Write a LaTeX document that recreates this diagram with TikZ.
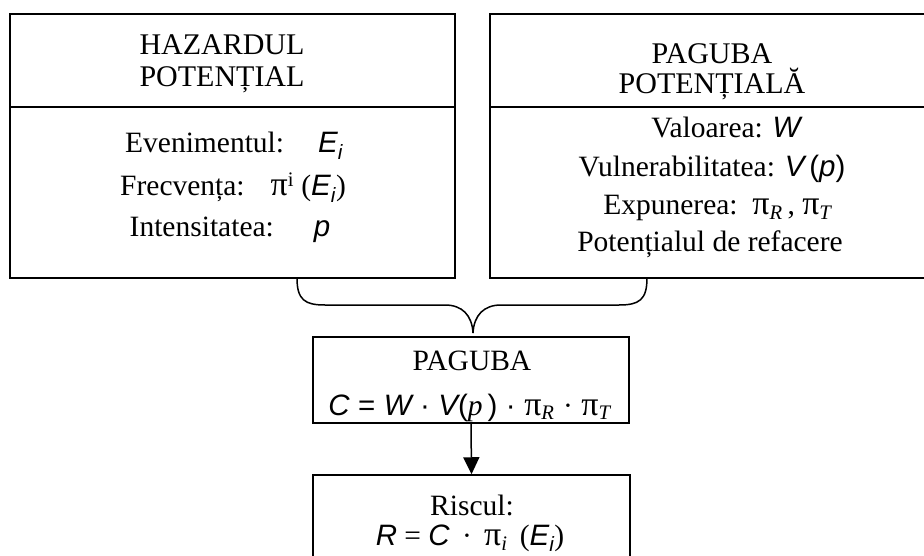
\documentclass[tikz,border=0pt]{standalone}
\usepackage{fontspec}
\usepackage{graphicx}
\setmainfont{Liberation Serif}
\newfontfamily\sansf{Liberation Sans}
\usetikzlibrary{arrows.meta}
\newcommand\sv[1]{{\sansf\itshape #1}}
\newcommand\sbs[1]{\textsubscript{#1}}
\newcommand\bigpi{\scalebox{1.15}{π}}
\newcommand\tsp{\hspace{8.5pt}}
\begin{document}
\begin{tikzpicture}[x=1pt,y=-1pt,
  box/.style={draw, line width=1.5pt, inner sep=0pt},
  hd/.style={anchor=base, inner sep=0pt, font=\fontsize{30}{36}\selectfont},
  bd/.style={anchor=base, inner sep=0pt, font=\fontsize{29.5}{34}\selectfont},
  con/.style={line width=1.5pt}]
\useasboundingbox (0,0) rectangle (924,556);
\clip (0,0) rectangle (924,556);
\fill[white] (0,0) rectangle (924,556);
% left box
\node[box, minimum width=445pt, minimum height=93pt] (hzh) at (232.5,60.5) {};
\node[box, minimum width=445pt, minimum height=171pt] (hzb) at (232.5,192.5) {};
\node[hd] (t1) at (222,55) {HAZARDUL};
\node[hd] (t2) at (222,87) {POTENȚIAL};
\node[bd] (l1) at (234,153) {Evenimentul:\hspace{34pt}\sv{E\sbs{i}}};
\node[bd] (l2) at (233,196) {Frecvența:\hspace{26pt}\bigpi\textsuperscript{i} (\sv{E\sbs{i}})};
\node[bd] (l3) at (230,237) {Intensitatea:\hspace{40pt}\sv{p}};
% right box
\node[box, minimum width=450pt, minimum height=93pt] (pgh) at (715,60.5) {};
\node[box, minimum width=450pt, minimum height=171pt] (pgb) at (715,192.5) {};
\node[hd] (t3) at (712,64) {PAGUBA};
\node[hd] (t4) at (712,94) {POTENȚIALĂ};
\node[bd] (r1) at (726,138) {Valoarea: \sv{W}};
\node[bd] (r2) at (712,177) {Vulnerabilitatea: \sv{V}\,{\sansf(\sv{p})}};
\node[bd] (r3) at (718,215) {Expunerea:\, \bigpi\sbs{\textit{R}}\,, \bigpi\sbs{\textit{T}}};
\node[bd] (r4) at (710,252) {Potențialul de refacere};
% brace
\coordinate (bl) at (297,278);
\coordinate (br) at (647,278);
\coordinate (tip) at (473,333);
\draw[con] (bl) .. controls (297,300) and (305,305) .. (325,305) -- (445,305)
  .. controls (462,305) and (472,315) .. (tip);
\draw[con] (br) .. controls (647,300) and (639,305) .. (619,305) -- (501,305)
  .. controls (484,305) and (474,315) .. (tip);
% PAGUBA box
\node[box, minimum width=316pt, minimum height=86pt] (pg) at (471,380) {};
\node[bd] (p1) at (472,370) {PAGUBA};
\node[bd] (p2) at (470,415) {\sansf\itshape C\tsp{\upshape=}\tsp W\tsp{\upshape·}\tsp V{\upshape(}\rmfamily p\,\sansf{\upshape)}\tsp{\upshape·}\tsp\rmfamily\upshape \bigpi\sbs{\textit{R}}\tsp·\tsp\bigpi\sbs{\textit{T}}};
% Riscul box
\node[box, minimum width=317pt, minimum height=110pt] (rs) at (471.5,530) {};
\node[bd] (q1) at (472,515) {Riscul:};
\node[bd] (q2) at (470,545) {\sv{R} = \sv{C}\, ·\, \bigpi\sbs{\textit{i}}\, (\sv{E\sbs{i}})};
% arrow
\draw[con, -{Triangle[width=16pt,length=17pt]}] (pg.south) -- (rs.north);
\end{tikzpicture}
\end{document}
